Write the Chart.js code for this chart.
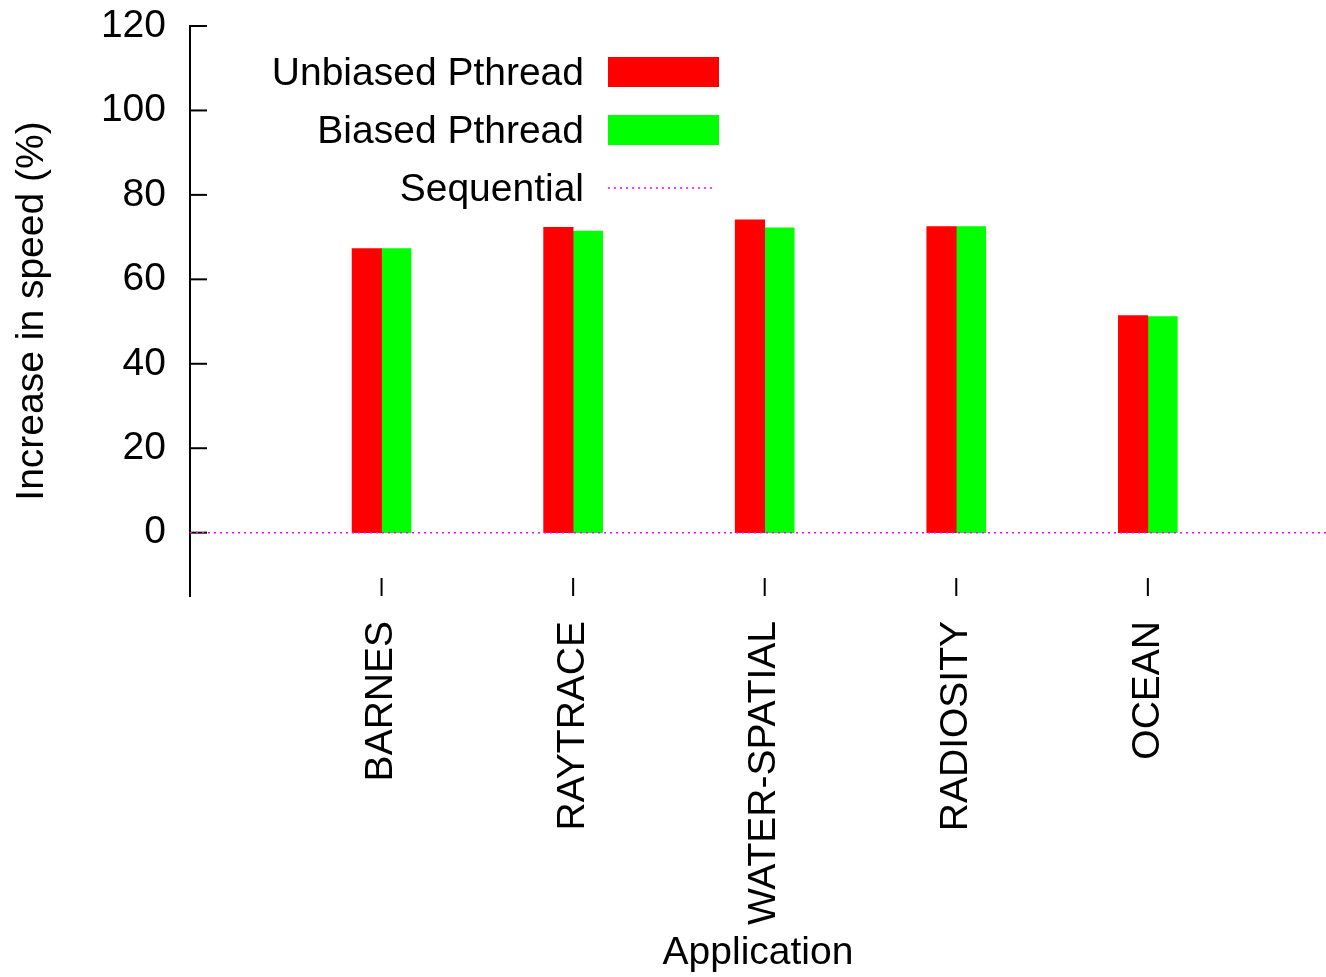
<!DOCTYPE html>
<html>
<head>
<meta charset="utf-8">
<script src="https://cdn.jsdelivr.net/npm/chart.js@4"></script>
<style>
  body { margin: 0; background: #fff; }
  #wrap { width: 1326px; height: 977px; }
</style>
</head>
<body>
<div id="wrap"><canvas id="chart1"></canvas></div>
<script>
const categories = ['BARNES', 'RAYTRACE', 'WATER-SPATIAL', 'RADIOSITY', 'OCEAN'];
const unbiased = [67.3, 72.3, 74.1, 72.5, 51.4];
const biased = [67.3, 71.4, 72.2, 72.5, 51.2];
const sequential = [0, 0, 0, 0, 0, 0, 0];
const yTicks = [0, 20, 40, 60, 80, 100, 120];

const FONT = '"Liberation Sans", Arial, sans-serif';
const FSIZE = 39;

// gnuplot style ticks pointing into the plot
const innerTicks = {
  id: 'innerTicks',
  beforeDatasetsDraw(chart) {
    const ctx = chart.ctx;
    const area = chart.chartArea;
    ctx.save();
    ctx.strokeStyle = '#000';
    ctx.lineWidth = 2;
    chart.scales.y.ticks.forEach(t => {
      const y = chart.scales.y.getPixelForValue(t.value);
      ctx.beginPath();
      ctx.moveTo(area.left, y);
      ctx.lineTo(area.left + 17, y);
      ctx.stroke();
    });
    chart.scales.x.ticks.forEach(t => {
      const x = chart.scales.x.getPixelForValue(t.value);
      ctx.beginPath();
      ctx.moveTo(x, area.bottom);
      ctx.lineTo(x, area.bottom - 18);
      ctx.stroke();
    });
    ctx.restore();
  }
};

// legend: text on the left, sample on the right
const sideLegend = {
  id: 'sideLegend',
  afterDraw(chart) {
    const ctx = chart.ctx;
    ctx.save();
    ctx.font = FSIZE + 'px ' + FONT;
    ctx.textAlign = 'right';
    ctx.textBaseline = 'middle';
    ctx.fillStyle = '#000';
    const textRight = 584, boxLeft = 608, boxW = 111, boxH = 30;
    chart.data.datasets.forEach((ds, i) => {
      const cy = 72 + i * 58;
      ctx.fillText(ds.label, textRight, cy + 2);
      if (ds.type === 'line') {
        ctx.strokeStyle = ds.borderColor;
        ctx.lineWidth = ds.borderWidth;
        ctx.setLineDash(ds.borderDash);
        ctx.beginPath();
        ctx.moveTo(boxLeft, cy);
        ctx.lineTo(boxLeft + 108, cy);
        ctx.stroke();
        ctx.setLineDash([]);
      } else {
        ctx.fillStyle = ds.backgroundColor;
        ctx.fillRect(boxLeft, cy - boxH / 2, boxW, boxH);
        ctx.fillStyle = '#000';
      }
    });
    ctx.restore();
  }
};

new Chart(document.getElementById('chart1'), {
  type: 'bar',
  data: {
    datasets: [{
      label: 'Unbiased Pthread',
      data: unbiased.map((v, i) => ({ x: i + 1, y: v })),
      backgroundColor: '#ff0000',
      barThickness: 29.5,
      order: 1
    }, {
      label: 'Biased Pthread',
      data: biased.map((v, i) => ({ x: i + 1, y: v })),
      backgroundColor: '#00ff00',
      barThickness: 29.5,
      order: 1
    }, {
      type: 'line',
      label: 'Sequential',
      data: sequential.map((v, i) => ({ x: i, y: v })),
      borderColor: '#ff00ff',
      borderWidth: 1.5,
      borderDash: [2, 4],
      pointRadius: 0,
      order: 0
    }]
  },
  options: {
    responsive: true,
    maintainAspectRatio: false,
    animation: false,
    layout: { padding: { top: 3, right: 0, left: 0, bottom: 0 } },
    plugins: { legend: { display: false }, tooltip: { enabled: false } },
    scales: {
      x: {
        type: 'linear',
        offset: false,
        min: 0,
        max: 5.93,
        afterBuildTicks: s => { s.ticks = categories.map((c, i) => ({ value: i + 1 })); },
        afterFit: s => { s.height = 381; s.paddingLeft = 0; s.paddingRight = 0; },
        grid: { display: false, drawTicks: false, offset: false },
        border: { display: false },
        ticks: {
          autoSkip: false,
          minRotation: 90,
          maxRotation: 90,
          padding: 25,
          color: '#000',
          font: { family: FONT, size: FSIZE },
          callback: v => categories[v - 1] || ''
        },
        title: {
          display: true,
          text: 'Application',
          color: '#000',
          font: { family: FONT, size: FSIZE },
          padding: { top: 2, bottom: 0 }
        }
      },
      y: {
        min: -15,
        max: 120,
        afterBuildTicks: s => { s.ticks = yTicks.map(v => ({ value: v })); },
        afterFit: s => { s.width = 190; s.paddingTop = 26; s.paddingBottom = 0; },
        grid: { display: false, drawTicks: false },
        border: { display: true, color: '#000', width: 2 },
        ticks: {
          padding: 24,
          color: '#000',
          font: { family: FONT, size: FSIZE }
        },
        title: {
          display: true,
          text: 'Increase in speed (%)',
          color: '#000',
          font: { family: FONT, size: FSIZE },
          padding: { top: 9, bottom: 22 }
        }
      }
    }
  },
  plugins: [innerTicks, sideLegend]
});
</script>
</body>
</html>
